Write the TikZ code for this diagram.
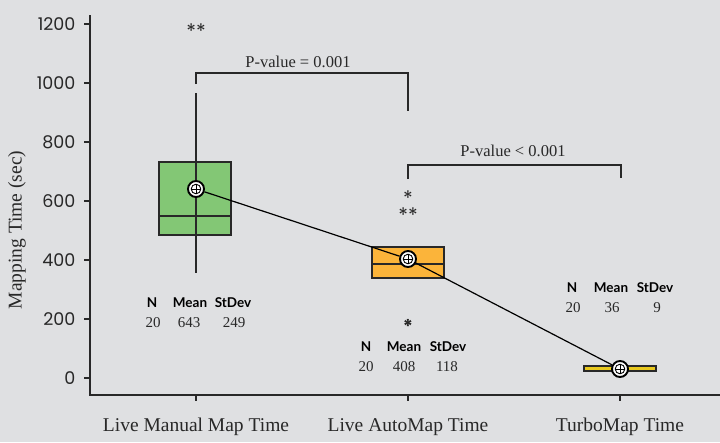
\documentclass[tikz,border=0pt]{standalone}
\usepackage{fontspec}
\setmainfont{Liberation Serif}
\newfontfamily\ticksans{Poppins}
\newfontfamily\headsans{Lato}
\usetikzlibrary{positioning}

\definecolor{bggray}{RGB}{223,224,226}
\definecolor{axisgray}{RGB}{40,40,40}
\definecolor{boxgreen}{RGB}{131,199,117}
\definecolor{boxorange}{RGB}{251,180,58}
\definecolor{boxyellow}{RGB}{232,200,30}

\tikzset{
  axisline/.style={line width=1.6pt, draw=axisgray},
  boxplot/.style={draw=axisgray, line width=1.3pt},
  whisker/.style={draw=axisgray, line width=1.3pt},
  bracket/.style={draw=axisgray, line width=1.3pt},
  meanmark/.style={circle, fill=white, draw=black, line width=1.9pt,
    minimum size=16pt, inner sep=0pt,
    path picture={
      \draw[line width=0.9pt] (path picture bounding box.center) circle (4.8pt);
      \draw[line width=0.9pt] ([xshift=-4.8pt]path picture bounding box.center) -- ++(9.6pt,0pt);
      \draw[line width=0.9pt] ([yshift=-4.8pt]path picture bounding box.center) -- ++(0pt,9.6pt);
    }},
  ticklabel/.style={font=\ticksans\fontsize{17.5}{19}\selectfont, text=axisgray},
  catlabel/.style={font=\fontsize{19.5}{22}\selectfont, text=axisgray},
  pvlabel/.style={font=\fontsize{16.5}{19}\selectfont, text=axisgray},
  stathead/.style={font=\headsans\bfseries\fontsize{13.5}{15}\selectfont, text=black},
  statnum/.style={font=\fontsize{15}{17}\selectfont, text=axisgray},
  starmark/.style={font=\ticksans\fontsize{20}{22}\selectfont, text=axisgray}
}

\begin{document}
\begin{tikzpicture}[x=1pt,y=-1pt]
    % background and frame of the picture
    \fill[bggray] (0,0) rectangle (720,442);
    \useasboundingbox (0,0) rectangle (720,442);
    % the axes
    \coordinate (top) at (90,15);
    \coordinate (origin) at (90,395);
    \coordinate (right) at (720,395);
    \draw[axisline] (top) -- (origin) -- (right);
    % y ticks and their labels
    \foreach \v in {0,200,...,1200} {
        \pgfmathsetmacro\yy{378-0.295*\v}
        \draw[axisline] (84,\yy) -- (90,\yy);
        \node[ticklabel, anchor=east] (tick\v) at (79,\yy) {\v};
    }
    \node[catlabel, rotate=90] (ytitle) at (17,230) {Mapping Time (sec)};
    % x ticks and the group names
    \foreach \gx in {196,408,620} {
        \draw[axisline] (\gx,395) -- (\gx,401);
    }
    \node[catlabel] (cat1) at (196,427) {Live Manual Map Time};
    \node[catlabel] (cat2) at (408,427) {Live AutoMap Time};
    \node[catlabel] (cat3) at (620,427) {TurboMap Time};
    % the boxes (median line inside)
    \filldraw[boxplot, fill=boxgreen] (159,162) rectangle (231,235);
    \draw[boxplot] (159,216) -- (231,216);
    \draw[whisker] (196,93) -- (196,273);
    \filldraw[boxplot, fill=boxorange] (372,247) rectangle (444,278);
    \draw[boxplot] (372,264) -- (444,264);
    \filldraw[boxplot, fill=boxyellow] (584,366) rectangle (656,371);
    % the outliers
    \node[starmark] (out1) at (196,31) {**};
    \node[starmark, align=center, font=\ticksans\fontsize{20}{17}\selectfont] (out2ab) at (408,207) {*\\**};
    \node[starmark, font=\ticksans\bfseries\fontsize{19}{20}\selectfont] (out2c) at (408,326) {*};
    % the p-value brackets
    \coordinate (b1l) at (196,84);
    \coordinate (b1r) at (408,111);
    \draw[bracket] (b1l) |- (302,73) -| (b1r);
    \node[pvlabel] (pv1) at (298,62) {P-value = 0.001};
    \coordinate (b2l) at (408,179);
    \coordinate (b2r) at (621,178);
    \draw[bracket] (b2l) |- (515,165) -| (b2r);
    \node[pvlabel] (pv2) at (513,151) {P-value < 0.001};
    % the means, joined by a line
    \node[meanmark] (m1) at (196,189) {};
    \node[meanmark] (m2) at (408,259) {};
    \node[meanmark] (m3) at (620,369) {};
    \draw[line width=1.2pt, black] (m1) -- (m2) -- (m3);
    % the statistics below each group
    \node[stathead] (n1) at (152,303) {N};
    \node[stathead] (mean1) at (190,303) {Mean};
    \node[stathead] (sd1) at (233,303) {StDev};
    \node[statnum] (n1v) at (153,323) {20};
    \node[statnum] (mean1v) at (189,323) {643};
    \node[statnum] (sd1v) at (234,323) {249};
    \node[stathead] (n2) at (366,347) {N};
    \node[stathead] (mean2) at (404,347) {Mean};
    \node[stathead] (sd2) at (448,347) {StDev};
    \node[statnum] (n2v) at (366,367) {20};
    \node[statnum] (mean2v) at (404,367) {408};
    \node[statnum] (sd2v) at (447,367) {118};
    \node[stathead] (n3) at (572,288) {N};
    \node[stathead] (mean3) at (611,288) {Mean};
    \node[stathead] (sd3) at (655,288) {StDev};
    \node[statnum] (n3v) at (573,308) {20};
    \node[statnum] (mean3v) at (612,308) {36};
    \node[statnum] (sd3v) at (657,308) {9};
\end{tikzpicture}
\end{document}
